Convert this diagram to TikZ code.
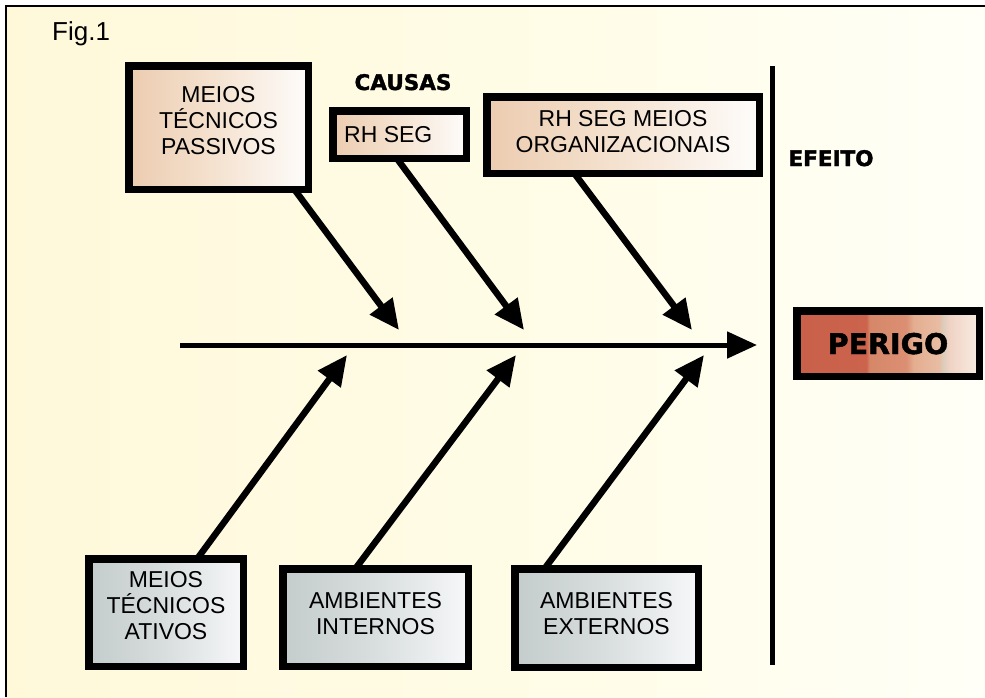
\documentclass[tikz,border=0pt]{standalone}
\usepackage{fontspec}
\setmainfont{Liberation Sans}
\newfontfamily\heavyfont{DejaVu Sans}[BoldFeatures={FakeBold=1.6}]
\usetikzlibrary{arrows.meta,calc}

% fills (the 25bp..75bp band is stretched over the filled path)
\pgfdeclarehorizontalshading{paper}{100bp}{%
  rgb(0bp)=(1,0.975,0.855); rgb(25bp)=(1,0.975,0.855);
  rgb(55bp)=(1,0.99,0.91); rgb(75bp)=(1,1,0.97); rgb(100bp)=(1,1,0.97)}
\pgfdeclarehorizontalshading{tanfill}{100bp}{%
  rgb(0bp)=(0.925,0.80,0.69); rgb(25bp)=(0.925,0.80,0.69);
  rgb(50bp)=(0.96,0.89,0.82); rgb(75bp)=(0.995,0.99,0.985); rgb(100bp)=(0.995,0.99,0.985)}
\pgfdeclarehorizontalshading{grayfill}{100bp}{%
  rgb(0bp)=(0.77,0.80,0.80); rgb(25bp)=(0.77,0.80,0.80);
  rgb(50bp)=(0.85,0.87,0.87); rgb(75bp)=(0.965,0.97,0.975); rgb(100bp)=(0.965,0.97,0.975)}
\pgfdeclarehorizontalshading{hazard}{100bp}{%
  rgb(0bp)=(0.785,0.376,0.29); rgb(25bp)=(0.785,0.376,0.29);
  rgb(44bp)=(0.80,0.39,0.30); rgb(45bp)=(0.84,0.53,0.41);
  rgb(55bp)=(0.86,0.56,0.45); rgb(57bp)=(0.895,0.68,0.565);
  rgb(64bp)=(0.91,0.74,0.64); rgb(65bp)=(0.86,0.80,0.74);
  rgb(67bp)=(0.94,0.83,0.77); rgb(75bp)=(0.975,0.93,0.89); rgb(100bp)=(0.975,0.93,0.89)}

\pgfdeclarelayer{bg}
\pgfsetlayers{bg,main}

\begin{document}
\begin{tikzpicture}[x=1pt,y=-1pt,
  frame/.style={draw=black, line width=7.5pt, inner sep=0pt, shade},
  causebox/.style={frame, shading=tanfill},
  sourcebox/.style={frame, shading=grayfill},
  effectbox/.style={frame, shading=hazard},
  lbl/.style={align=center, inner sep=0pt, font=\fontsize{23}{26}\selectfont},
  heading/.style={inner sep=0pt, font=\heavyfont\bfseries\fontsize{21.5}{26}\selectfont},
  bone/.style={line width=6.5pt, shorten <=-5pt, -{Triangle[length=30pt,width=27pt]}},
  spine/.style={line width=5pt, -{Triangle[length=30pt,width=26pt]}}]

\useasboundingbox (0,0) rectangle (985,697);

% cause boxes (top row)
\node[causebox, minimum width=179.5pt, minimum height=123.5pt] (mtp) at (218.5,127.5) {};
\node[causebox, minimum width=133.5pt, minimum height=47.5pt] (rhs) at (399.5,134.5) {};
\node[causebox, minimum width=272.5pt, minimum height=76.5pt] (rho) at (623,135) {};

% cause boxes (bottom row)
\node[sourcebox, minimum width=154.5pt, minimum height=107.5pt] (mta) at (166,612.5) {};
\node[sourcebox, minimum width=185.5pt, minimum height=97.5pt] (ain) at (375.5,617.5) {};
\node[sourcebox, minimum width=183.5pt, minimum height=98.5pt] (aex) at (606.5,618) {};

% effect box
\node[effectbox, minimum width=182.5pt, minimum height=65.5pt] (per) at (888,343.5) {};

% box texts
\node[lbl] (mtp-t) at ($(mtp.center)+(0,-6.5)$) {MEIOS\\TÉCNICOS\\PASSIVOS};
\node[lbl, anchor=base west] (rhs-t) at (344,142) {RH SEG};
\node[lbl] (rho-t) at ($(rho.center)+(0,-3.5)$) {RH SEG MEIOS\\ORGANIZACIONAIS};
\node[lbl] (mta-t) at ($(mta.center)+(0,-7)$) {MEIOS\\TÉCNICOS\\ATIVOS};
\node[lbl] (ain-t) at ($(ain.center)+(0,-3.5)$) {AMBIENTES\\INTERNOS};
\node[lbl] (aex-t) at ($(aex.center)+(0,-4)$) {AMBIENTES\\EXTERNOS};
\node[heading, font=\heavyfont\bfseries\fontsize{28.5}{32}\selectfont, anchor=base] (per-t) at (888,354) {PERIGO};

% headings
\node[anchor=base west, inner sep=0pt, font=\fontsize{26}{30}\selectfont] (fig) at (52,40) {Fig.1};
\node[heading, anchor=base] (causas) at (403,90) {CAUSAS};
\node[heading, anchor=base] (efeito) at (831,166) {EFEITO};

% spine, effect line and bone tips
\coordinate (spineL) at (180,345);
\coordinate (spineR) at (757,345);
\coordinate (efTop) at (772,66);
\coordinate (efBot) at (772,665);
\coordinate (t1) at (399,330);
\coordinate (t2) at (524,330);
\coordinate (t3) at (692,330);
\coordinate (b1) at (347,355);
\coordinate (b2) at (516,355);
\coordinate (b3) at (704,355);

\begin{pgfonlayer}{bg}
  \fill[white] (0,0) rectangle (985,697);
  \shade[shading=paper] (6,6) rectangle (985,697);
  \draw[line width=1.5pt] (6,697) -- (6,6) -- (985,6);

  \draw[line width=5pt] (efTop) -- (efBot);
  \draw[spine] (spineL) -- (spineR);

  \draw[bone] ($(mtp.south west)!0.92!(mtp.south east)$) -- (t1);
  \draw[bone] ($(rhs.south west)!0.50!(rhs.south east)$) -- (t2);
  \draw[bone] ($(rho.south west)!0.336!(rho.south east)$) -- (t3);
  \draw[bone] ($(mta.north west)!0.71!(mta.north east)$) -- (b1);
  \draw[bone] ($(ain.north west)!0.41!(ain.north east)$) -- (b2);
  \draw[bone] ($(aex.north west)!0.19!(aex.north east)$) -- (b3);
\end{pgfonlayer}
\end{tikzpicture}
\end{document}
